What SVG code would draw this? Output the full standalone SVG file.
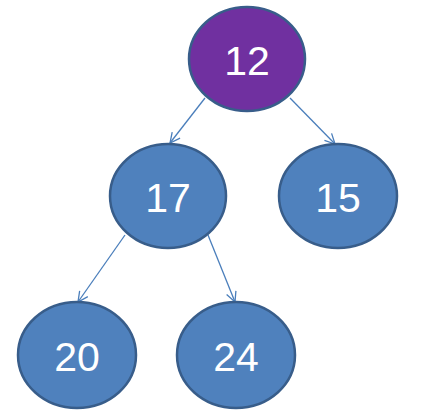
<svg xmlns="http://www.w3.org/2000/svg" width="425" height="420" viewBox="0 0 425 420">
  <defs>
    <style>
      .node ellipse { stroke: #385D8A; stroke-width: 2.5; }
      .blue ellipse { fill: #4F81BD; }
      .root ellipse { fill: #7030A0; }
      .node text { font-family: "Liberation Sans", Arial, sans-serif; font-size: 41px; fill: #FFFFFF; text-anchor: middle; }
      .edge { stroke: #4A7EBB; stroke-width: 1.3; fill: none; marker-end: url(#arrow); }
    </style>
    <marker id="arrow" viewBox="0 0 12 12" refX="11" refY="6" markerWidth="12" markerHeight="12" markerUnits="userSpaceOnUse" orient="auto">
      <path d="M1,1 L11,6 L1,11" fill="none" stroke="#4A7EBB" stroke-width="1.3"/>
    </marker>
  </defs>
  <rect width="425" height="420" fill="#FFFFFF"/>
  <g id="connectors">
    <line class="edge" x1="205" y1="98" x2="170" y2="143"/>
    <line class="edge" x1="290" y1="98" x2="335" y2="144"/>
    <line class="edge" x1="125" y1="235" x2="78" y2="302"/>
    <line class="edge" x1="208" y1="235" x2="235" y2="302"/>
  </g>
  <g id="node-12" class="node root">
    <ellipse cx="247" cy="59" rx="58" ry="52"/>
    <text x="247" y="75">12</text>
  </g>
  <g id="node-17" class="node blue">
    <ellipse cx="168" cy="196" rx="58" ry="52"/>
    <text x="168" y="212">17</text>
  </g>
  <g id="node-15" class="node blue">
    <ellipse cx="338" cy="196" rx="59" ry="52"/>
    <text x="338" y="212">15</text>
  </g>
  <g id="node-20" class="node blue">
    <ellipse cx="77" cy="355" rx="59" ry="53"/>
    <text x="77" y="371">20</text>
  </g>
  <g id="node-24" class="node blue">
    <ellipse cx="236" cy="355" rx="59" ry="53"/>
    <text x="236" y="371">24</text>
  </g>
</svg>
